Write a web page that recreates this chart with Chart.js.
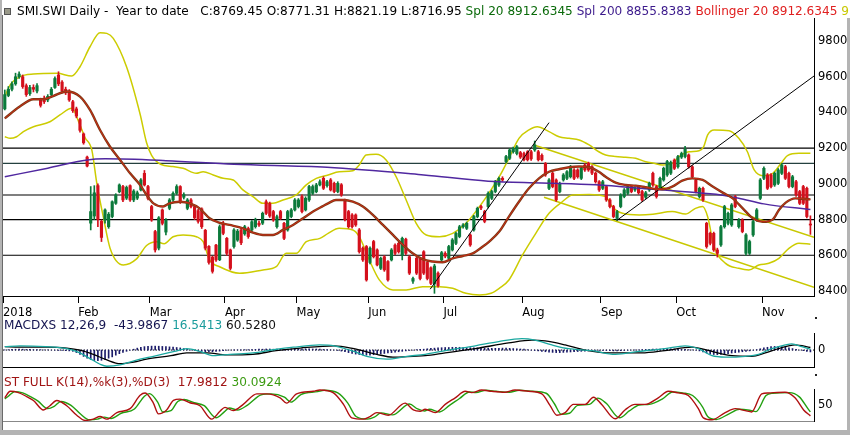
<!DOCTYPE html>
<html>
<head>
<meta charset="utf-8">
<script src="https://cdn.jsdelivr.net/npm/chart.js@4.4.1/dist/chart.umd.min.js"></script>
<style>
  html, body { margin: 0; padding: 0; background: #fff; }
  #wrap { position: relative; width: 850px; height: 435px; overflow: hidden; background: #fff; font-family: "DejaVu Sans", sans-serif; }
  canvas { position: absolute; left: 0; }
  .hdr { position: absolute; font-size: 12.1px; line-height: 14px; white-space: pre; z-index: 3; }
  .frameL { position: absolute; left: 0; top: 0; width: 2px; height: 435px; background: #b4b4b4; z-index: 4; }
  .lineL { position: absolute; left: 2px; top: 15px; width: 1px; height: 416px; background: #6a6a6a; z-index: 4; }
  .frameR { position: absolute; left: 847px; top: 18px; width: 3px; height: 417px; background: #b4b4b4; z-index: 4; }
  .frameB { position: absolute; left: 0; top: 430px; width: 850px; height: 5px; background: #b4b4b4; z-index: 4; }
  .dot { position: absolute; width: 2px; height: 2px; background: #222; z-index: 4; }
  .icon { position: absolute; left: 4px; top: 8px; width: 5px; height: 5px; background: #9a9a8a; border: 1px solid #555; z-index: 4; }
</style>
</head>
<body>
<div id="wrap">
  <canvas id="mainChart" width="850" height="322" style="top:0"></canvas>
  <canvas id="macdChart" width="850" height="56" style="top:322px"></canvas>
  <canvas id="stochChart" width="850" height="54" style="top:378px"></canvas>

  <div class="icon"></div>
  <div class="hdr" style="left:17px; top:4px"><span style="color:#000">SMI.SWI Daily -  Year to date   C:8769.45 O:8771.31 H:8821.19 L:8716.95 </span><span style="color:#0a6a0a">Spl 20 8912.6345 </span><span style="color:#3c1a8c">Spl 200 8855.8383 </span><span style="color:#e02020">Bollinger 20 8912.6345 </span><span style="color:#c8c800">9</span></div>
  <div class="hdr" style="left:4px; top:318px"><span style="color:#141450">MACDXS 12,26,9  -43.9867 </span><span style="color:#1a9c9c">16.5413 </span><span style="color:#111">60.5280</span></div>
  <div class="hdr" style="left:4px; top:375px"><span style="color:#a01414">ST FULL K(14),%k(3),%D(3)  17.9812 </span><span style="color:#3a9a10">30.0924</span></div>

  <div class="dot" style="left:815px; top:317px"></div>
  <div class="dot" style="left:815px; top:374px"></div>
  <div class="frameL"></div>
  <div class="lineL"></div>
  <div class="frameR"></div>
  <div class="frameB"></div>
</div>

<script>
// ---- x axis: trading days, month labels ----
const monthNames = ['2018', 'Feb', 'Mar', 'Apr', 'May', 'Jun', 'Jul', 'Aug', 'Sep', 'Oct', 'Nov'];
const monthStart = [0, 21, 41, 62, 82, 102, 123, 145, 167, 188, 212];
const priceTicks = [8400, 8600, 8800, 9000, 9200, 9400, 9600, 9800];

// ---- daily candles ----
const opens = [
  9420,9495,9530,9560,9600,9600,9550,9505,9540,9520,9470,9480,9470,9500,9540,9610,9570,9530,9520,9460,9420,
  9360,9280,9150,8780,8820,8990,8790,8798,8760,8817,8891,8956,8985,8920,8990,8910,8920,8966,9059,8985,
  8873,8733,8640,8854,8730,8863,8910,8947,8985,8925,8863,8910,8873,8850,8860,8740,8650,8590,8657,8575,8780,
  8695,8630,8649,8685,8742,8720,8750,8742,8760,8780,8780,8900,8890,8845,8760,8845,8779,8742,8817,8854,
  8873,8929,8854,8910,8947,8956,8994,9031,8990,9022,9003,8957,8995,8910,8845,8826,8826,8742,8640,8649,
  8560,8677,8630,8527,8592,8565,8574,8657,8667,8600,8690,8592,8455,8583,8580,8620,8560,8530,8440,8500,8574,
  8611,8583,8630,8667,8705,8760,8751,8714,8742,8817,8873,8845,8873,8919,8957,8994,9031,9125,9143,9180,9170,9175,
  9170,9180,9180,9190,9180,9160,9115,8975,9060,9022,8957,9022,9031,9040,9078,9078,9031,9106,9115,9096,9060,9012,
  8975,8985,8910,8873,8807,8873,8929,8947,8985,8966,8985,8957,8925,8966,9059,8985,8975,9022,9050,9060,9133,
  9096,9150,9153,9162,9096,9022,8929,8975,8779,8723,8723,8630,8658,8760,8779,8770,8929,8760,8798,8611,8611,8714,8798,8919,
  9031,9050,9050,8994,9003,9059,9096,9059,8985,9012,8957,8985,8975,8771.31
];
const highs = [
  9526,9545,9572,9620,9628,9610,9560,9552,9555,9562,9480,9492,9500,9540,9600,9628,9578,9542,9528,9468,9430,
  9368,9285,9155,8985,8990,9000,8798,8860,8840,8905,8945,9000,8992,8988,8995,8968,8960,9030,9075,8992,
  8880,8740,8817,8860,8805,8918,8955,8995,8990,8950,8918,8918,8880,8858,8866,8745,8655,8595,8662,8770,8790,
  8700,8635,8750,8745,8750,8768,8758,8795,8808,8792,8842,8910,8898,8852,8825,8852,8785,8852,8862,8918,
  8918,8938,8928,8992,8994,9003,9022,9040,9020,9030,9010,9012,9002,8915,8852,8834,8832,8750,8648,8655,
  8648,8684,8636,8590,8598,8570,8638,8664,8674,8702,8696,8598,8478,8590,8586,8626,8566,8536,8550,8508,8622,
  8620,8656,8694,8730,8768,8778,8786,8720,8824,8870,8880,8852,8955,8965,9020,9038,9040,9160,9198,9206,9215,9182,
  9178,9186,9188,9240,9188,9168,9120,9030,9066,9028,9010,9058,9075,9104,9085,9085,9094,9113,9122,9103,9067,9018,
  9020,8992,8918,8880,8852,8945,8974,8992,8992,8984,8992,8964,8958,9010,9066,8992,9038,9094,9132,9128,9140,
  9160,9178,9210,9168,9102,9028,8982,8982,8785,8730,8730,8640,8768,8880,8842,8890,8936,8806,8805,8722,8685,8796,8862,9030,
  9095,9058,9058,9066,9086,9114,9104,9066,9048,9020,8964,8992,8982,8821.19
];
const lows = [
  9414,9488,9520,9552,9590,9535,9490,9495,9515,9510,9430,9450,9460,9492,9535,9550,9510,9500,9462,9400,9370,
  9290,9222,9095,8742,8800,8760,8677,8780,8751,8810,8885,8950,8900,8912,8902,8900,8912,8960,8988,8910,
  8790,8618,8630,8770,8714,8855,8902,8940,8890,8915,8855,8865,8800,8780,8750,8630,8550,8500,8565,8570,8715,
  8600,8518,8640,8678,8660,8712,8695,8735,8752,8762,8772,8828,8812,8790,8752,8800,8688,8735,8810,8848,
  8865,8838,8848,8902,8940,8950,8988,8968,8982,8960,8950,8950,8930,8792,8752,8752,8762,8612,8566,8455,
  8552,8585,8540,8520,8510,8455,8568,8604,8612,8574,8604,8492,8443,8492,8462,8492,8462,8436,8387,8422,8566,
  8586,8576,8624,8660,8698,8752,8744,8650,8735,8810,8856,8782,8866,8912,8950,8986,9014,9118,9136,9172,9162,9142,
  9128,9128,9132,9182,9128,9128,9042,8968,8978,8902,8950,9015,9024,9033,9024,9032,9024,9070,9070,9052,9004,8958,
  8968,8902,8865,8810,8795,8866,8922,8940,8950,8958,8942,8902,8918,8958,8986,8920,8968,9015,9042,9052,9080,
  9088,9142,9146,9088,9032,8950,8920,8902,8640,8658,8622,8590,8650,8752,8770,8762,8866,8752,8726,8600,8604,8706,8790,8912,
  9024,8968,8978,8986,8996,9052,9024,8978,8978,8930,8884,8884,8810,8716.95
];
const closes = [
  9500,9530,9560,9600,9615,9545,9500,9540,9530,9550,9440,9460,9490,9530,9590,9560,9520,9510,9470,9410,9380,
  9300,9230,9100,8845,8950,8800,8700,8854,8830,8900,8938,8994,8910,8980,8910,8960,8950,9022,8994,8919,
  8798,8630,8810,8779,8798,8910,8947,8985,8900,8940,8910,8873,8810,8790,8760,8640,8560,8510,8574,8760,8723,
  8611,8527,8742,8735,8670,8760,8705,8788,8798,8770,8835,8835,8820,8798,8816,8807,8695,8845,8854,8910,
  8910,8845,8919,8985,8985,8994,9012,8975,9012,8966,8957,9003,8938,8800,8760,8760,8770,8620,8574,8462,
  8640,8592,8546,8583,8518,8462,8630,8611,8620,8695,8611,8500,8470,8500,8470,8500,8470,8443,8540,8430,8615,
  8595,8649,8686,8723,8760,8770,8779,8658,8817,8863,8865,8790,8947,8957,9012,9031,9022,9153,9190,9199,9208,9150,
  9135,9135,9140,9218,9135,9135,9050,9022,8985,8910,9003,9050,9068,9096,9031,9040,9087,9078,9078,9060,9012,8966,
  9012,8910,8873,8817,8845,8938,8966,8985,8957,8975,8950,8910,8950,9003,8994,8929,9031,9087,9125,9120,9087,
  9153,9170,9194,9096,9040,8957,8975,8910,8649,8667,8630,8611,8760,8873,8835,8882,8873,8798,8733,8714,8677,8789,8854,9022,
  9087,8975,8985,9059,9078,9106,9031,8985,9040,8938,8891,8891,8817,8769.45
];

// ---- indicator lines: [day, value] ----
const sma20 = [[0,9367],[4.2,9433],[8,9474],[10.8,9474],[13.5,9492],[17.3,9517],[21,9489],[23.8,9414],[26.6,9302],[29.4,9208],[32.2,9134],[35,9059],[37.8,8994],[39.6,8938],[41.5,8891],[44.2,8873],[46,8891],[48.9,8900],[51.7,8891],[54.4,8863],[57.2,8807],[59.6,8785],[62.8,8770],[66.5,8751],[69.3,8727],[72.1,8714],[74.9,8714],[77.7,8742],[80.5,8770],[83.3,8807],[86.1,8845],[88.9,8876],[90.3,8891],[92.5,8910],[94.8,8910],[97.2,8900],[100,8873],[102.8,8826],[105.6,8770],[108.4,8714],[111.2,8658],[113.9,8611],[116.7,8578],[119.5,8565],[122.3,8561],[125.1,8583],[127.9,8596],[130.7,8611],[133.5,8649],[135.3,8677],[138.1,8733],[140.8,8817],[143.6,8900],[146.4,8975],[149.2,9031],[152,9068],[154.8,9082],[157.6,9093],[160.4,9097],[163.2,9093],[165.9,9068],[167.8,9040],[170.6,9007],[173.4,8994],[176.2,8990],[179,8981],[181.3,8972],[183.6,8970],[186.4,8985],[189.2,9018],[192,9031],[194.9,9022],[197.7,8985],[200.5,8951],[203.3,8919],[206.1,8863],[208.9,8807],[211.7,8788],[214.5,8801],[216.2,8854],[218.1,8895],[220.8,8919],[223.6,8915],[225,8913]];
const sma200 = [[0,9040],[12,9088],[23,9134],[28,9140],[45,9130],[64,9110],[90,9093],[117,9050],[135,9015],[150,9005],[165,8995],[181,8970],[190,8956],[200,8938],[205,8920],[212,8888],[225,8856]];
const bollUpper = [[0,9488],[1.5,9554],[4.2,9600],[8,9615],[14.6,9619],[18.7,9604],[21,9656],[23.8,9768],[26.6,9847],[28.5,9843],[30.3,9815],[34,9656],[37.8,9390],[39.6,9230],[41,9160],[43.5,9110],[47,9097],[49.8,9087],[53.5,9059],[55.4,9068],[58.2,9050],[61,9031],[63.8,9022],[66.5,8966],[69.3,8929],[72.1,8891],[74.9,8891],[77.7,8910],[81.4,8938],[84.2,8994],[87,9031],[90.3,9050],[93.4,9068],[97.2,9074],[99,9106],[100.9,9162],[103.7,9166],[106.5,9134],[109.3,9040],[112.1,8910],[114.9,8779],[117.7,8714],[121.4,8704],[125.1,8723],[128.8,8779],[132.6,8873],[135.8,8966],[138.1,9040],[140.8,9143],[143.6,9255],[146.4,9302],[148.7,9320],[152,9293],[154.8,9264],[157.6,9255],[160.4,9246],[163.2,9218],[165.9,9180],[167.8,9162],[170.6,9153],[173.4,9149],[176.2,9143],[179,9124],[181.3,9115],[183.6,9106],[186.4,9115],[188.3,9153],[191.1,9180],[193.9,9186],[195.2,9209],[196.3,9274],[198.1,9302],[202.3,9298],[205,9255],[207.4,9180],[209.3,9078],[211.7,9046],[214.5,9059],[216.8,9115],[218.6,9158],[221.8,9171],[225,9171]];
const bollLower = [[0,9264],[1.5,9255],[3.3,9264],[5.2,9293],[8,9320],[12.6,9348],[15.4,9386],[18.7,9423],[21,9330],[22.4,9260],[24.3,9190],[25.7,9003],[27.5,8816],[29.4,8640],[33.1,8546],[36.8,8580],[39.6,8655],[42.4,8676],[44.5,8665],[47,8704],[49.8,8714],[53.5,8704],[55.4,8676],[57.2,8574],[60,8536],[65.6,8499],[72.1,8518],[75.8,8536],[78.6,8611],[81.4,8611],[84.2,8676],[88,8695],[90.3,8723],[93.4,8751],[97.2,8742],[99,8704],[101.8,8574],[104.6,8462],[108.4,8406],[112.1,8406],[116.7,8424],[121.4,8424],[125.1,8415],[128.8,8387],[132.6,8378],[135.8,8387],[138.1,8415],[140.8,8462],[144.6,8602],[148.3,8723],[152,8835],[155.7,8900],[158.5,8938],[163.2,8941],[167.8,8929],[169.6,8873],[172.5,8835],[177.2,8826],[181,8830],[186.4,8845],[190.1,8831],[192.9,8863],[194.9,8873],[196.3,8816],[198.1,8649],[201.3,8555],[205,8527],[207.8,8518],[210.6,8546],[213.4,8555],[216.2,8583],[219,8639],[221.8,8667],[225,8662]];

// drawn levels and trend lines
const hLevels = [9200, 9115, 8938, 8800, 8600];
const trendJul = [[118.8,8410],[152,9343]];
const trendSep = [[170.9,8795],[226,9604]];
const chanUpper = [[147.8,9218],[226,8701]];
const chanLower = [[150.6,8925],[226,8421]];

// ---- MACD (12,26,9) ----
const macdLine = [[0,80],[4.2,100],[11.4,80],[17.3,33],[21,-67],[23.8,-200],[26.6,-333],[28.5,-380],[32.2,-347],[37.8,-213],[41.5,-147],[47.4,-33],[50.8,33],[54.5,-33],[58.3,-133],[62.9,-100],[69.3,-67],[75,7],[80.6,67],[88,120],[92,100],[97.5,-33],[101.1,-147],[106.7,-213],[112.3,-147],[117.4,-100],[123,-13],[131.4,100],[137.9,200],[144.4,267],[148.1,233],[152.8,120],[157.4,33],[163.9,-13],[170.5,-100],[177,-33],[184.4,33],[190,100],[193.7,33],[197.5,-133],[201.2,-167],[206.8,-147],[210.5,-100],[214.2,33],[218,120],[219.8,147],[222.6,80],[225,17]];
const macdSignal = [[0,80],[4.2,67],[11.4,67],[17.3,47],[21,0],[24.7,-100],[28.5,-233],[32.2,-320],[36,-280],[39.6,-213],[46.4,-133],[50.8,-67],[56.5,-67],[62,-113],[69.3,-100],[75.8,-13],[82.5,47],[92,100],[97.5,33],[103.9,-100],[108.4,-167],[114.1,-147],[117.4,-133],[123,-67],[131.4,33],[140.7,167],[147.2,233],[150.9,213],[156.5,120],[162.1,0],[169.5,-67],[177.9,-67],[184.4,-13],[191.9,67],[197.5,-33],[203.1,-133],[208.6,-147],[212.4,-67],[216.1,33],[220.7,120],[225,60]];
const macdHist = [
  5,10,15,20,20,20, 15,15,10,10,10,5,5, 0,-5,-10,-10,-15,-20,-30,
  -60,-100,-150,-190,-220,-245,-250,-240,-220,-190, -160,-120,-85,-55,-30,0,20,
  45,65,80,90,92,92,90,85,80,75,70,60,50,35, 15,0,-10,-20,-30,-40,-40,-40,-35,-25,
  -15,-5,0,5,5,5,10,10,10,15, 20,20,25,25,20,20,15,15,20,25,25,30,
  30,30,30,25,25,20,15,10,5,0,-10,-25,-40,
  -60,-80,-95,-105,-115,-120,-118,-110,-100,-90,-80,-70,-60,-50,-40,
  -30,-20,-10,0,10,15,20,30,40,45,
  50,55,60,60,65,65,65,60,60,55,55,50,50,45,45,
  40,40,40,45,45,40,35,30,25,20,10,0,
  -10,-20,-30,-40,-50,-55,-60,-60,-55,-50,-45,-40,-35,
  -30,-25,-20,-15,-10,-10,-10,-10,-15,-20,-20,-15,-10,-5,0,
  5,5,10,15,15,20,25,25,30,30,30,25,25,20,15,10,5,0,
  -20,-45,-70,-95,-105,-110,-105,-95,-85,-70,-60,-50,-40,-30,-20,-5,
  10,30,50,65,80,85,85,80,70,55,35,15,0,-15,-30,-44
];

// ---- Full stochastic ----
const stochK = [[0,73],[1.5,93],[3.8,89],[6.1,77],[8,65],[10.8,36],[12.6,49],[14.5,65],[17.3,49],[20.1,20],[22.4,4],[24.7,8],[26.6,16],[28.5,8],[31.3,28],[35,40],[37.8,81],[39.2,88],[41.5,57],[42.9,24],[45.2,36],[47.1,65],[48.9,69],[51.7,58],[54.5,49],[57.8,8],[60.1,32],[61.5,44],[63.8,34],[66.6,53],[70.4,85],[73.2,85],[76.9,73],[78.7,57],[81.5,85],[86.2,93],[88,97],[91.8,88],[94.6,53],[96.9,12],[100.1,8],[102,16],[103.9,28],[107.1,20],[111.8,57],[114.1,36],[116,32],[117.4,38],[120.2,28],[123,53],[125.8,73],[128.6,93],[130.4,89],[133.2,97],[136,93],[139.7,90],[142.5,97],[146.2,93],[150,85],[152.3,49],[154.2,20],[156.5,28],[158.8,53],[162.1,53],[164.4,75],[166.7,53],[170.5,9],[173.2,36],[176,53],[178.8,53],[182.5,73],[185.3,93],[188.1,88],[190.9,80],[193.7,40],[195.1,12],[197.5,6],[201.2,28],[204,40],[206.8,34],[208.6,30],[211.4,85],[213.3,88],[217.9,90],[220.7,73],[223.1,36],[225,18]];
const stochD = [[0,70],[1,78],[2.8,92],[5,88],[7.3,76],[9.3,63],[12,40],[13.8,47],[15.7,62],[18.5,50],[21.3,22],[23.6,6],[25.9,8],[27.8,14],[29.7,10],[32.5,26],[36.2,39],[39,78],[40.4,86],[42.7,60],[44.1,30],[46.4,34],[48.3,62],[50.1,68],[52.9,58],[55.7,49],[59,12],[61.3,30],[62.7,42],[65,36],[67.8,51],[71.6,82],[74.4,85],[78.1,75],[79.9,60],[82.7,83],[87.4,92],[89.2,96],[93,88],[95.8,57],[98.1,16],[101.3,8],[103.2,14],[105.1,27],[108.3,21],[113,54],[115.3,39],[117.2,33],[118.6,38],[121.4,30],[124.2,50],[127,71],[129.8,91],[131.6,89],[134.4,96],[137.2,93],[140.9,90],[143.7,96],[147.4,93],[151.2,87],[153.5,55],[155.4,23],[157.7,26],[160,50],[163.3,53],[165.6,72],[167.9,57],[171.7,12],[174.4,33],[177.2,51],[180,53],[183.7,70],[186.5,91],[189.3,88],[192.1,80],[194.9,45],[196.3,16],[198.7,7],[202.4,25],[205.2,38],[208,35],[209.8,31],[212.6,80],[214.5,87],[219.1,89],[221.9,76],[224.3,40],[225,30]];

// ========== helpers ==========
Chart.defaults.font.family = '"DejaVu Sans", sans-serif';
Chart.defaults.font.size = 11.5;
Chart.defaults.color = '#000';

const X_MIN = -0.5, X_MAX = 226;
const pts = arr => arr.map(([x, y]) => ({x, y}));
const flat = v => [{x: X_MIN, y: v}, {x: X_MAX, y: v}];
const days = closes.map((c, i) => i);
const candleColor = days.map(i => closes[i] >= opens[i] ? '#0b7a3b' : '#d4101c');

function lineSet(data, color, width, order, extra) {
  return Object.assign({
    type: 'line', data: data, borderColor: color, borderWidth: width,
    pointRadius: 0, fill: false, cubicInterpolationMode: 'monotone', order: order
  }, extra || {});
}

function hiddenX(extra) {
  return Object.assign({
    type: 'linear', min: X_MIN, max: X_MAX, bounds: 'data', offset: false,
    afterFit: s => { s.height = 0; },
    ticks: { display: false },
    grid: { display: false, drawTicks: false, offset: false },
    border: { display: true, color: '#000', width: 1 }
  }, extra || {});
}

function rightY(min, max, tickVals) {
  return {
    type: 'linear', position: 'right', min: min, max: max, bounds: 'data',
    afterBuildTicks: s => { s.ticks = tickVals.map(v => ({value: v})); },
    afterFit: s => { s.width = 36; },
    ticks: { padding: 4, color: '#000', font: { size: 11.5 }, callback: v => String(v) },
    grid: { display: false, drawTicks: false },
    border: { display: true, color: '#000', width: 1 }
  };
}

const common = {
  responsive: false,
  animation: false,
  events: [],
  plugins: { legend: { display: false }, tooltip: { enabled: false } }
};

// ========== MAIN PRICE PANEL ==========
const mainDatasets = [];
hLevels.forEach((v, k) => mainDatasets.push(
  lineSet(flat(v), k === 1 ? '#24403f' : '#000', 1.1, 20, { cubicInterpolationMode: 'default', tension: 0 })
));
mainDatasets.push(lineSet(pts(chanUpper), '#c8c800', 1.5, 18, { tension: 0 }));
mainDatasets.push(lineSet(pts(chanLower), '#c8c800', 1.5, 18, { tension: 0 }));
mainDatasets.push(lineSet(pts(bollUpper), '#cccc00', 1.5, 17));
mainDatasets.push(lineSet(pts(bollLower), '#cccc00', 1.5, 17));
mainDatasets.push({
  type: 'bar', data: days.map(i => ({x: i, y: [lows[i], highs[i]]})),
  backgroundColor: candleColor, barThickness: 1, grouped: false, order: 15
});
mainDatasets.push({
  type: 'bar', data: days.map(i => ({x: i, y: [opens[i], closes[i]]})),
  backgroundColor: candleColor, barThickness: 2.5, minBarLength: 1, grouped: false, order: 14
});
mainDatasets.push(lineSet(pts(sma200), '#5028a0', 1.5, 10));
mainDatasets.push(lineSet(pts(trendJul), '#000', 1, 9, { tension: 0 }));
mainDatasets.push(lineSet(pts(trendSep), '#000', 1, 9, { tension: 0 }));
mainDatasets.push(lineSet(pts(sma20), '#7a3a14', 2.4, 8));
mainDatasets.push(lineSet(pts(sma20), '#d82818', 0.9, 7));

new Chart(document.getElementById('mainChart'), {
  type: 'line',
  data: { datasets: mainDatasets },
  options: Object.assign({}, common, {
    layout: { padding: { left: 3, top: 18, right: 0, bottom: 0 } },
    scales: {
      x: {
        type: 'linear', min: X_MIN, max: X_MAX, bounds: 'data', offset: false,
        afterBuildTicks: s => { s.ticks = monthStart.map(v => ({value: v - 0.5})); },
        afterFit: s => { s.height = 26; },
        ticks: {
          autoSkip: false, maxRotation: 0, align: 'start', padding: 3, color: '#000',
          font: { size: 11.5 }, callback: (v, i) => monthNames[i]
        },
        grid: { display: true, drawOnChartArea: false, drawTicks: true, tickLength: 7, color: '#000', offset: false },
        border: { display: true, color: '#000', width: 1 }
      },
      y: rightY(8372, 9929, priceTicks)
    }
  })
});

// ========== MACD PANEL ==========
new Chart(document.getElementById('macdChart'), {
  type: 'line',
  data: {
    datasets: [
      lineSet(flat(0), '#000', 1, 6, { borderDash: [1, 2], tension: 0 }),
      {
        type: 'bar', data: days.map(i => ({x: i, y: macdHist[i]})),
        backgroundColor: '#1c1c6a', barThickness: 1, grouped: false, order: 5
      },
      lineSet(pts(macdSignal), '#000', 1.3, 3),
      lineSet(pts(macdLine), '#1aa8a0', 1.3, 2)
    ]
  },
  options: Object.assign({}, common, {
    layout: { padding: { left: 3, top: 11, right: 0, bottom: 5 } },
    scales: { x: hiddenX(), y: rightY(-400, 400, [0]) }
  })
});

// ========== STOCHASTIC PANEL ==========
new Chart(document.getElementById('stochChart'), {
  type: 'line',
  data: {
    datasets: [
      lineSet(pts(stochD), '#22a010', 1.4, 3),
      lineSet(pts(stochK), '#b01010', 1.4, 2)
    ]
  },
  options: Object.assign({}, common, {
    layout: { padding: { left: 3, top: 11, right: 0, bottom: 3 } },
    scales: {
      x: hiddenX({ border: { display: true, color: '#888', width: 1 } }),
      y: rightY(2, 100, [50])
    }
  })
});
</script>
</body>
</html>
